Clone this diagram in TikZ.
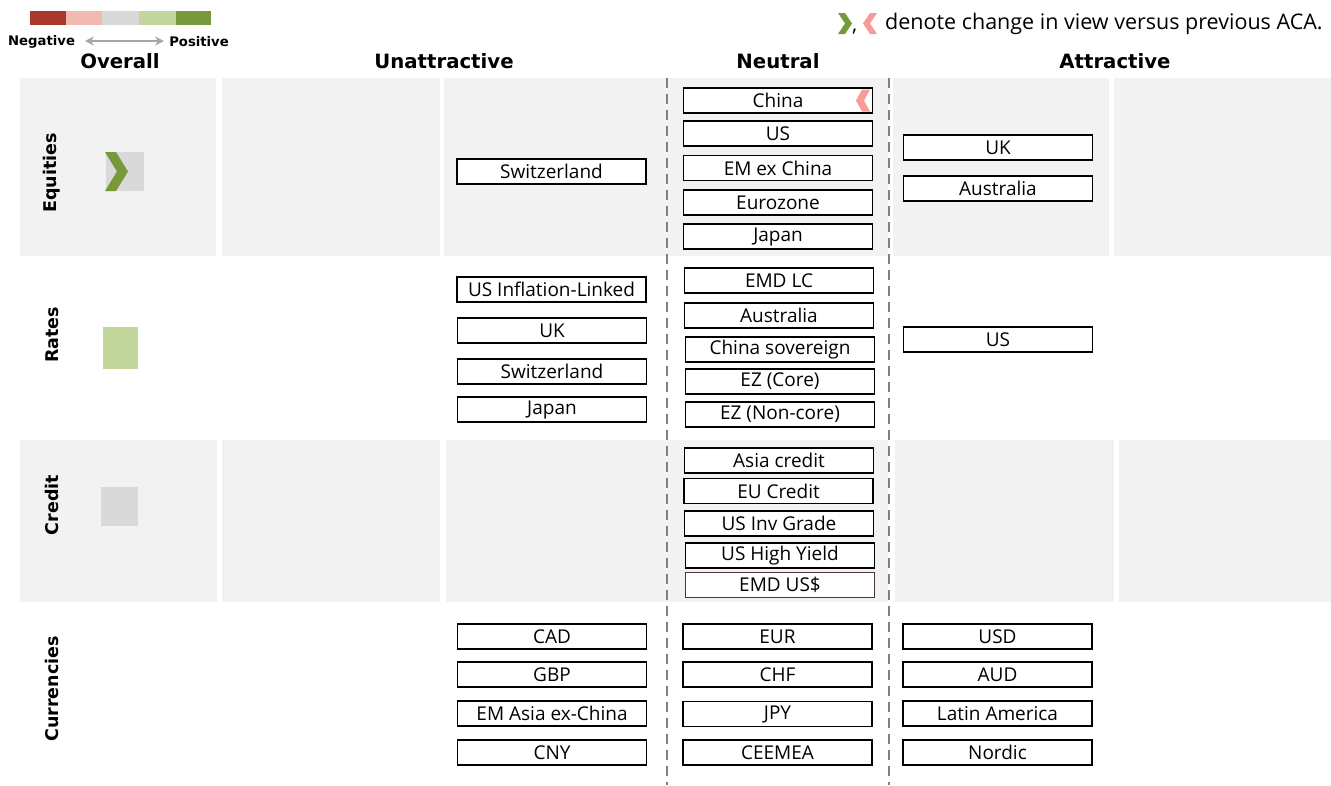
\documentclass[tikz,border=0pt]{standalone}
\usepackage{fontspec}
\setmainfont{Open Sans}
\newfontfamily\hdr{DejaVu Sans}
\usetikzlibrary{arrows.meta}
\definecolor{panel}{HTML}{F2F2F2}
\definecolor{negdark}{HTML}{A93A2B}
\definecolor{negl}{HTML}{F2B9B2}
\definecolor{neu}{HTML}{D9D9D9}
\definecolor{posl}{HTML}{C3D69B}
\definecolor{posdark}{HTML}{77993A}
\definecolor{chevpink}{HTML}{F89A9A}
\definecolor{dashgray}{HTML}{808080}
\definecolor{brownb}{HTML}{4A3B32}
\definecolor{arrgray}{HTML}{A6A6A6}
\tikzset{
  x=1pt, y=-1pt,
  bx/.style={draw=black, line width=1.3pt, fill=white, minimum width=189pt, minimum height=25pt, inner sep=0pt, font=\fontsize{19}{21}\selectfont},
  colhead/.style={font=\hdr\bfseries\fontsize{19.7}{22}\selectfont},
  rowhead/.style={font=\hdr\bfseries\fontsize{17.5}{20}\selectfont, rotate=90},
  divider/.style={draw=dashgray, line width=2.8pt, dash pattern=on 10pt off 6pt},
  legtxt/.style={font=\hdr\bfseries\fontsize{13.2}{15}\selectfont},
}
\begin{document}
\begin{tikzpicture}
\useasboundingbox (0,0) rectangle (1331,785);
% panels: Equities row
\fill[panel] (20,78) rectangle (216,256);
\fill[panel] (222,78) rectangle (440,256);
\fill[panel] (444,78) rectangle (664,256);
\fill[panel] (664,78) rectangle (888,256);
\fill[panel] (893,78) rectangle (1109,256);
\fill[panel] (1114,78) rectangle (1331,256);
% panels: Credit row
\fill[panel] (20,440) rectangle (217,602);
\fill[panel] (222,440) rectangle (440,602);
\fill[panel] (446,440) rectangle (664,602);
\fill[panel] (664,440) rectangle (888,602);
\fill[panel] (895,440) rectangle (1114,602);
\fill[panel] (1119,440) rectangle (1331,602);
% dividers
\coordinate (d1t) at (667,78); \coordinate (d1b) at (667,785);
\coordinate (d2t) at (889,78); \coordinate (d2b) at (889,785);
\draw[divider] (d1t) -- (d1b);
\draw[divider] (d2t) -- (d2b);
% legend bar
\fill[negdark] (30,11) rectangle (66,25);
\fill[negl] (66,11) rectangle (102,25);
\fill[neu] (102,11) rectangle (139,25);
\fill[posl] (139,11) rectangle (176,25);
\fill[posdark] (176,11) rectangle (211,25);
\node[legtxt, anchor=west, inner sep=0pt] (neg) at (8,42) {Negative};
\node[legtxt, anchor=east, inner sep=0pt] (pos) at (229,42) {Positive};
\coordinate (arL) at (85,41);
\coordinate (arR) at (164,41);
\draw[{Stealth[length=9pt,width=9pt]}-{Stealth[length=9pt,width=9pt]}, draw=arrgray, line width=2.6pt] (arL) -- (arR);
% column headers
\node[colhead] (hOverall) at (120,61) {Overall};
\node[colhead] (hUn) at (444,61) {Unattractive};
\node[colhead] (hNeu) at (778,61) {Neutral};
\node[colhead] (hAt) at (1115,61) {Attractive};
% top-right legend
\fill[posdark] (838,13) -- (845,13) -- (852,23.5) -- (845,34) -- (838,34) -- (845,23.5) -- cycle;
\node[anchor=base west, inner sep=0pt, font=\fontsize{21}{24}\selectfont] (comma) at (852,31) {,};
\fill[chevpink] (877,13) -- (870,13) -- (863,23.5) -- (870,34) -- (877,34) -- (870,23.5) -- cycle;
\node[anchor=west, inner sep=0pt, font=\fontsize{21.5}{24}\selectfont] (note) at (885,24) {denote change in view versus previous ACA.};
% row headers
\node[rowhead] (rEq) at (52,173) {Equities};
\node[rowhead] (rRa) at (52,335) {Rates};
\node[rowhead] (rCr) at (52,505) {Credit};
\node[rowhead] (rCu) at (52,689) {Currencies};
% overall indicators
\fill[neu] (106,152) rectangle (144,191);
\fill[posdark] (105,152) -- (116,152) -- (128,171.5) -- (116,191) -- (105,191) -- (117,171.5) -- cycle;
\fill[posl] (103,327) rectangle (138,369);
\fill[neu] (101,487) rectangle (138,526);
% Equities
\node[bx] (eqSw) at (551.5,171.5) {Switzerland};
\node[bx] (eqCn) at (778,100.5) {China};
\fill[chevpink] (870,89.5) -- (862,89.5) -- (856,100.5) -- (862,111.5) -- (870,111.5) -- (864,100.5) -- cycle;
\node[bx] (eqUS) at (778,133.5) {US};
\node[bx] (eqEM) at (778,168) {EM ex China};
\node[bx] (eqEZ) at (778,202.5) {Eurozone};
\node[bx] (eqJP) at (778,236.5) {Japan};
\node[bx] (eqUK) at (998,147.5) {UK};
\node[bx] (eqAU) at (998,188.5) {Australia};
% Rates
\node[bx] (raIL) at (551.5,289.5) {US Inflation-Linked};
\node[bx] (raUK) at (552,330.5) {UK};
\node[bx] (raSw) at (552,371.5) {Switzerland};
\node[bx] (raJP) at (552,409.5) {Japan};
\node[bx] (raEM) at (779,280.5) {EMD LC};
\node[bx] (raAU) at (779,315.5) {Australia};
\node[bx] (raCN) at (780,349.5) {China sovereign};
\node[bx] (raEZc) at (780,381.5) {EZ (Core)};
\node[bx] (raEZn) at (780,414.5) {EZ (Non-core)};
\node[bx] (raUS) at (998,339.5) {US};
% Credit
\node[bx] (crAs) at (779,460.5) {Asia credit};
\node[bx] (crEU) at (778.5,491) {EU Credit};
\node[bx] (crIG) at (779,523.5) {US Inv Grade};
\node[bx] (crHY) at (780,555.5) {US High Yield};
\node[bx, draw=brownb] (crEMD) at (780,585) {EMD US\$};
% Currencies
\node[bx] (cuCAD) at (552,636.5) {CAD};
\node[bx] (cuGBP) at (552,674.5) {GBP};
\node[bx] (cuEMA) at (552,713.5) {EM Asia ex-China};
\node[bx] (cuCNY) at (552,752.5) {CNY};
\node[bx] (cuEUR) at (777.5,636.5) {EUR};
\node[bx] (cuCHF) at (777.5,674.5) {CHF};
\node[bx] (cuJPY) at (777.5,714) {JPY};
\node[bx] (cuCEE) at (777.5,752.5) {CEEMEA};
\node[bx] (cuUSD) at (997.5,636.5) {USD};
\node[bx] (cuAUD) at (997.5,674.5) {AUD};
\node[bx] (cuLat) at (997.5,713.5) {Latin America};
\node[bx] (cuNor) at (997.5,752.5) {Nordic};
\end{tikzpicture}
\end{document}
